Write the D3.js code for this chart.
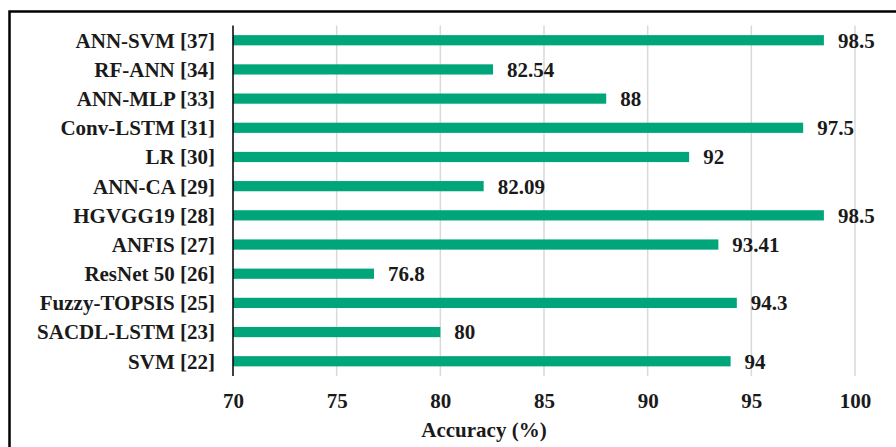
<!DOCTYPE html>
<html>
<head>
<meta charset="utf-8">
<script src="https://cdn.jsdelivr.net/npm/d3@7"></script>
<style>
  html, body { margin: 0; padding: 0; background: #fff; }
  .lbl { font-family: "Liberation Serif", "DejaVu Serif", "Times New Roman", serif; font-weight: 700; }
</style>
</head>
<body>
<div id="chart"></div>
<script>
// --- data (top to bottom, as in the picture) ---
const models = ["ANN-SVM [37]", "RF-ANN [34]", "ANN-MLP [33]", "Conv-LSTM [31]", "LR [30]",
  "ANN-CA [29]", "HGVGG19 [28]", "ANFIS [27]", "ResNet 50 [26]", "Fuzzy-TOPSIS [25]",
  "SACDL-LSTM [23]", "SVM [22]"];
const accuracy = [98.5, 82.54, 88, 97.5, 92, 82.09, 98.5, 93.41, 76.8, 94.3, 80, 94];
const accuracyLabels = ["98.5", "82.54", "88", "97.5", "92", "82.09", "98.5", "93.41", "76.8", "94.3", "80", "94"];
const xTicks = [70, 75, 80, 85, 90, 95, 100];
const xDomain = [70, 100];
const xTitle = "Accuracy (%)";

const width = 896, height = 447;
const plot = { left: 233, right: 855, top: 25.5, bottom: 376 };

const svg = d3.select("#chart").append("svg")
  .attr("width", width)
  .attr("height", height);

// frame (image is cropped, only top and left edges show)
svg.append("path")
  .attr("d", `M9.5,${height + 5}V11.5H${width + 5}`)
  .attr("fill", "none")
  .attr("stroke", "#000")
  .attr("stroke-width", 2.5);

const x = d3.scaleLinear().domain(xDomain).range([plot.left, plot.right]);
const y = d3.scaleBand().domain(models).range([plot.top, plot.bottom]).paddingInner(0.65).paddingOuter(0.33);

// gridlines
svg.append("g")
  .selectAll("line")
  .data(xTicks.slice(1))
  .join("line")
  .attr("x1", d => x(d)).attr("x2", d => x(d))
  .attr("y1", plot.top).attr("y2", plot.bottom)
  .attr("stroke", "#d9d9d9")
  .attr("stroke-width", 1.5);

// bars
svg.append("g")
  .selectAll("rect")
  .data(models)
  .join("rect")
  .attr("x", x(xDomain[0]))
  .attr("y", d => y(d))
  .attr("width", (d, i) => x(accuracy[i]) - x(xDomain[0]))
  .attr("height", y.bandwidth())
  .attr("fill", "#00a67a");

// value labels
svg.append("g")
  .selectAll("text")
  .data(models)
  .join("text")
  .attr("class", "lbl")
  .attr("x", (d, i) => x(accuracy[i]) + 14)
  .attr("y", d => y(d) + y.bandwidth() / 2)
  .attr("dy", "0.35em")
  .attr("font-size", 21)
  .attr("fill", "#1a1a1a")
  .text((d, i) => accuracyLabels[i]);

// y axis line
svg.append("line")
  .attr("x1", plot.left).attr("x2", plot.left)
  .attr("y1", plot.top).attr("y2", plot.bottom)
  .attr("stroke", "#000")
  .attr("stroke-width", 1.5);

// category labels
svg.append("g")
  .selectAll("text")
  .data(models)
  .join("text")
  .attr("class", "lbl")
  .attr("x", 215)
  .attr("y", d => y(d) + y.bandwidth() / 2)
  .attr("dy", "0.35em")
  .attr("text-anchor", "end")
  .attr("font-size", 21)
  .attr("fill", "#1a1a1a")
  .text(d => d);

// x tick labels
const xAxis = svg.append("g")
  .attr("transform", `translate(0,${plot.bottom})`)
  .call(d3.axisBottom(x).tickValues(xTicks).tickSize(0).tickPadding(17));
xAxis.select(".domain").remove();
xAxis.selectAll("text")
  .attr("class", "lbl")
  .attr("font-size", 21)
  .attr("fill", "#1a1a1a");

// axis title
svg.append("text")
  .attr("class", "lbl")
  .attr("x", 484)
  .attr("y", 437)
  .attr("text-anchor", "middle")
  .attr("font-size", 21)
  .attr("fill", "#1a1a1a")
  .text(xTitle);
</script>
</body>
</html>
